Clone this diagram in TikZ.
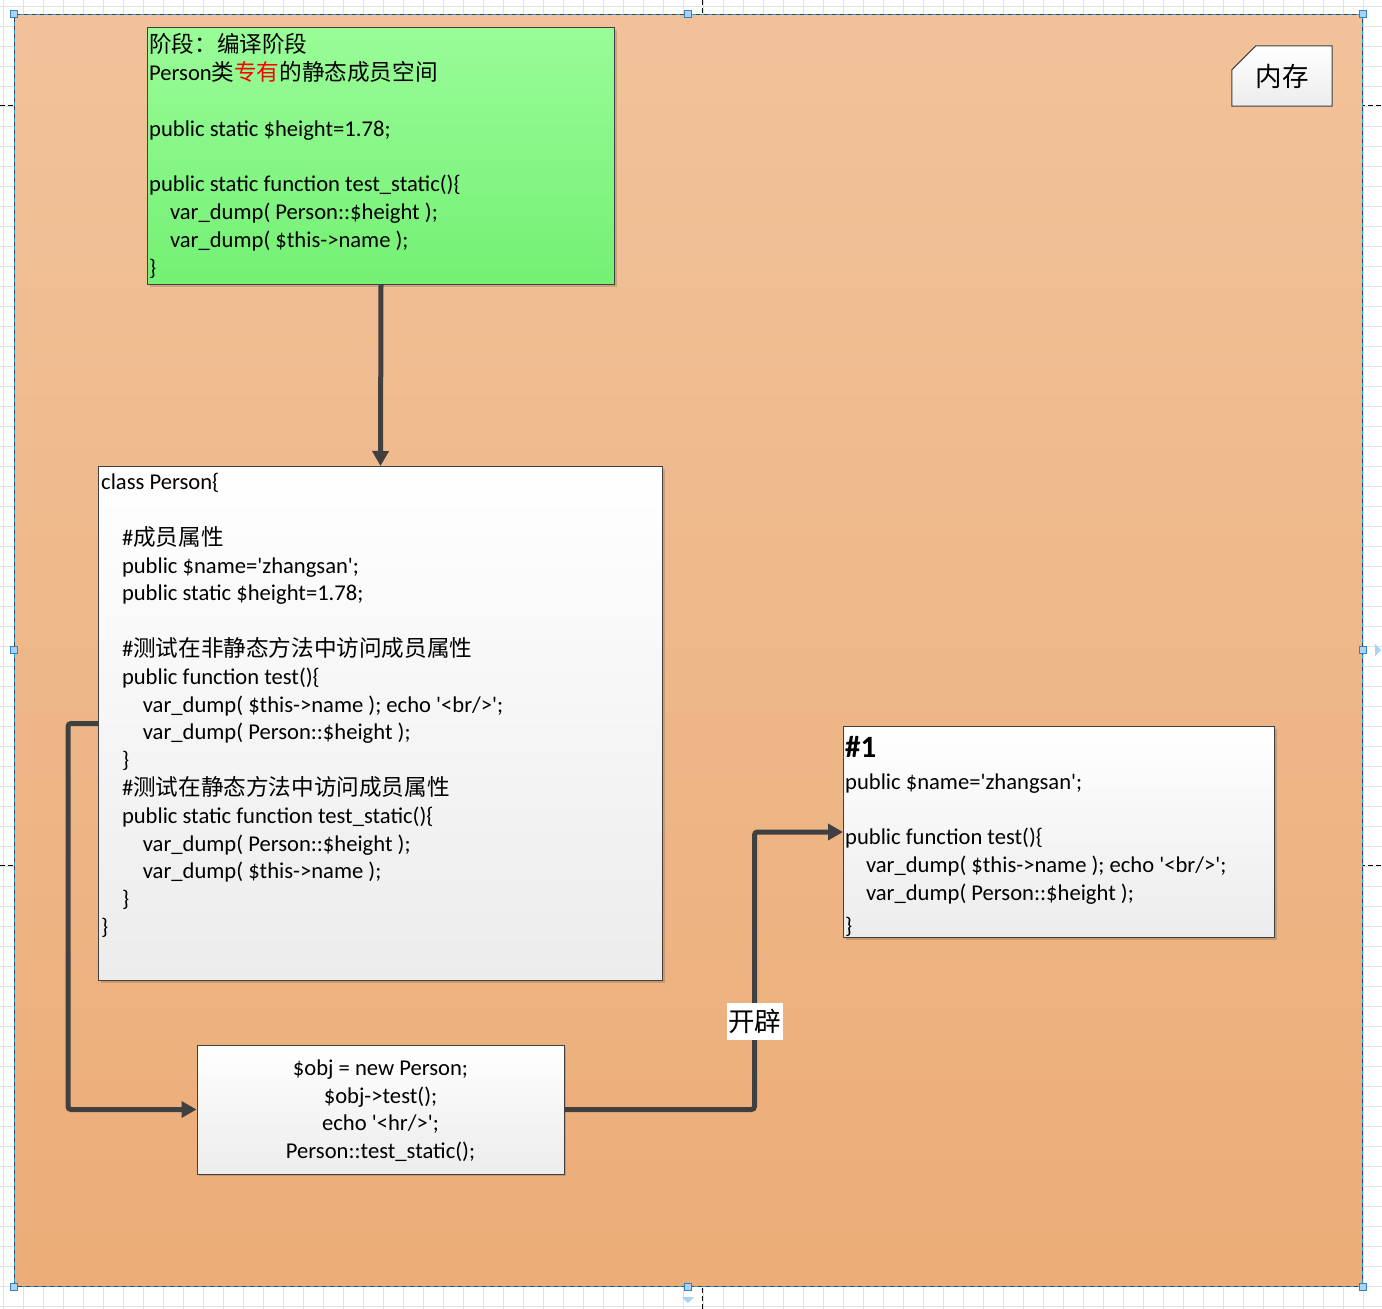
\documentclass[tikz,border=0pt]{standalone}
\usepackage{fontspec}
\setmainfont{Carlito}
\newfontfamily\codefont{Carlito}
\newfontfamily\cjk{Noto Sans CJK SC}
\usetikzlibrary{arrows.meta,calc,positioning,shadows}

\definecolor{areatop}{RGB}{241,194,154}
\definecolor{areabot}{RGB}{236,173,120}
\definecolor{greentop}{RGB}{153,252,152}
\definecolor{greenbot}{RGB}{116,240,116}
\definecolor{boxbot}{RGB}{236,236,236}
\definecolor{edgegray}{RGB}{64,64,64}
\definecolor{gridgray}{RGB}{224,224,224}
\definecolor{selblue}{RGB}{30,160,230}
\definecolor{handlefill}{RGB}{170,210,245}
\definecolor{handledraw}{RGB}{50,130,200}

\newcommand{\ind}{\hspace*{20.8pt}}

\begin{document}
\begin{tikzpicture}[x=1pt,y=-1pt,
area/.style={anchor=north west, inner sep=0pt, draw=none, top color=areatop, bottom color=areabot},
box/.style={anchor=north west, draw=edgegray, line width=1pt, inner sep=0pt, top color=white, bottom color=boxbot,
  drop shadow={shadow xshift=2pt, shadow yshift=-2pt, opacity=0.15, fill=black}},
greenbox/.style={box, top color=greentop, bottom color=greenbot},
code/.style={anchor=north west, inner sep=0pt, align=left, font=\codefont\fontsize{22.6}{27.8}\selectfont},
title/.style={inner sep=0pt, font=\codefont\bfseries\fontsize{31}{36}\selectfont},
note/.style={inner sep=0pt, minimum width=100pt, minimum height=60pt, font=\cjk\fontsize{26.5}{30}\selectfont},
notebox/.style={draw=edgegray, line width=1pt, top color=white, bottom color=boxbot},
conn/.style={draw=edgegray, line width=5pt, rounded corners=3pt, -{Triangle[length=15pt,width=16pt]}},
lbl/.style={fill=white, inner sep=0pt, minimum width=56pt, minimum height=37pt, font=\cjk\fontsize{26.5}{30}\selectfont},
handle/.style={rectangle, inner sep=0pt, minimum size=7pt, fill=handlefill, draw=handledraw, line width=0.8pt},
gridline/.style={draw=gridgray, line width=1pt},
pagebreak/.style={draw=black, line width=0.8pt, dash pattern=on 5pt off 3pt}]

\useasboundingbox (0,0) rectangle (1382,1309);

%% canvas grid and page breaks
\foreach \gx in {3,23,...,1383}
      \draw[gridline] (\gx,0) -- (\gx,1309);
\foreach \gy in {6,26,...,1306}
      \draw[gridline] (0,\gy) -- (1382,\gy);
\draw[pagebreak] (702,0) -- (702,1309);
\draw[pagebreak] (0,105) -- (1382,105);
\draw[pagebreak] (0,865) -- (1382,865);

%% memory area
\node[area, minimum width=1348pt, minimum height=1272pt] (memory) at (14,14) {};
\draw[edgegray, line width=1pt] (memory.north west) rectangle (memory.south east);
\draw[selblue, line width=1pt, dash pattern=on 4pt off 4pt] (memory.north west) rectangle (memory.south east);
\foreach \a in {north west, north, north east, west, east, south west, south, south east}
      \node[handle] (h-\a) at (memory.\a) {};
\fill[handlefill] (1375,644) -- (1381,650) -- (1375,656) -- cycle;
\fill[handlefill] (682,1297) -- (694,1297) -- (688,1303) -- cycle;

%% memory note with cut corner
\node[note] (mem) at (1282,76) {};
\shade[notebox] (mem.south west) -- ($(mem.north west)+(0,24)$) -- ($(mem.north west)+(24,0)$)
      -- (mem.north east) -- (mem.south east) -- cycle;
\node[note] (mem-text) at (mem.center) {内存};

%% static member space
\node[greenbox, minimum width=467pt, minimum height=257pt] (stage) at (147,27) {};
\node[code] (stage-text) at (149,33) {%
\strut{\cjk 阶段：编译阶段}\\
Person{\cjk 类\textcolor{red}{专有}的静态成员空间}\\
\mbox{}\\
public static \$height=1.78;\\
\mbox{}\\
public static function test\_static()\{\\
\ind var\_dump( Person::\$height );\\
\ind var\_dump( \$this->name );\\
\}};

%% class definition
\node[box, minimum width=564pt, minimum height=514pt] (cls) at (98,466) {};
\node[code] (cls-text) at (101,470) {%
\strut class Person\{\\
\mbox{}\\
\ind\#{\cjk 成员属性}\\
\ind public \$name='zhangsan';\\
\ind public static \$height=1.78;\\
\mbox{}\\
\ind\#{\cjk 测试在非静态方法中访问成员属性}\\
\ind public function test()\{\\
\ind\ind var\_dump( \$this->name ); echo '<br/>';\\
\ind\ind var\_dump( Person::\$height );\\
\ind\}\\
\ind\#{\cjk 测试在静态方法中访问成员属性}\\
\ind public static function test\_static()\{\\
\ind\ind var\_dump( Person::\$height );\\
\ind\ind var\_dump( \$this->name );\\
\ind\}\\
\}};

%% calling code
\node[box, anchor=center, minimum width=367pt, minimum height=129pt, align=center,
      font=\codefont\fontsize{22.6}{27.6}\selectfont] (main) at (380.5,1109.5) {};
\node[inner sep=0pt, align=center, font=\codefont\fontsize{22.6}{27.6}\selectfont] (main-text)
      at ($(main.center)+(0,2)$) {%
\strut\$obj = new Person;\\
\$obj->test();\\
echo '<hr/>';\\
Person::test\_static();\strut};

%% object #1
\node[box, minimum width=431pt, minimum height=211pt] (inst) at (843,726) {};
\node[title, anchor=base west] (inst-title) at (845,757) {\#1};
\node[code] (inst-text) at (845,769.5) {%
\strut public \$name='zhangsan';\\
\mbox{}\\
public function test()\{\\
\ind var\_dump( \$this->name ); echo '<br/>';\\
\ind var\_dump( Person::\$height );\\[5pt]
\}};

%% connectors
\draw[conn] (stage.south) -- (cls.north);
\draw[conn] (cls.west) -- ++(-30,0) |- (main.west);
\coordinate (bend) at ($(main.east)+(190,0)$);
\draw[conn] (main.east) -- (bend) |- (inst.west);
\node[lbl] (open) at ($(bend)+(0,-88)$) {开辟};

\end{tikzpicture}
\end{document}
